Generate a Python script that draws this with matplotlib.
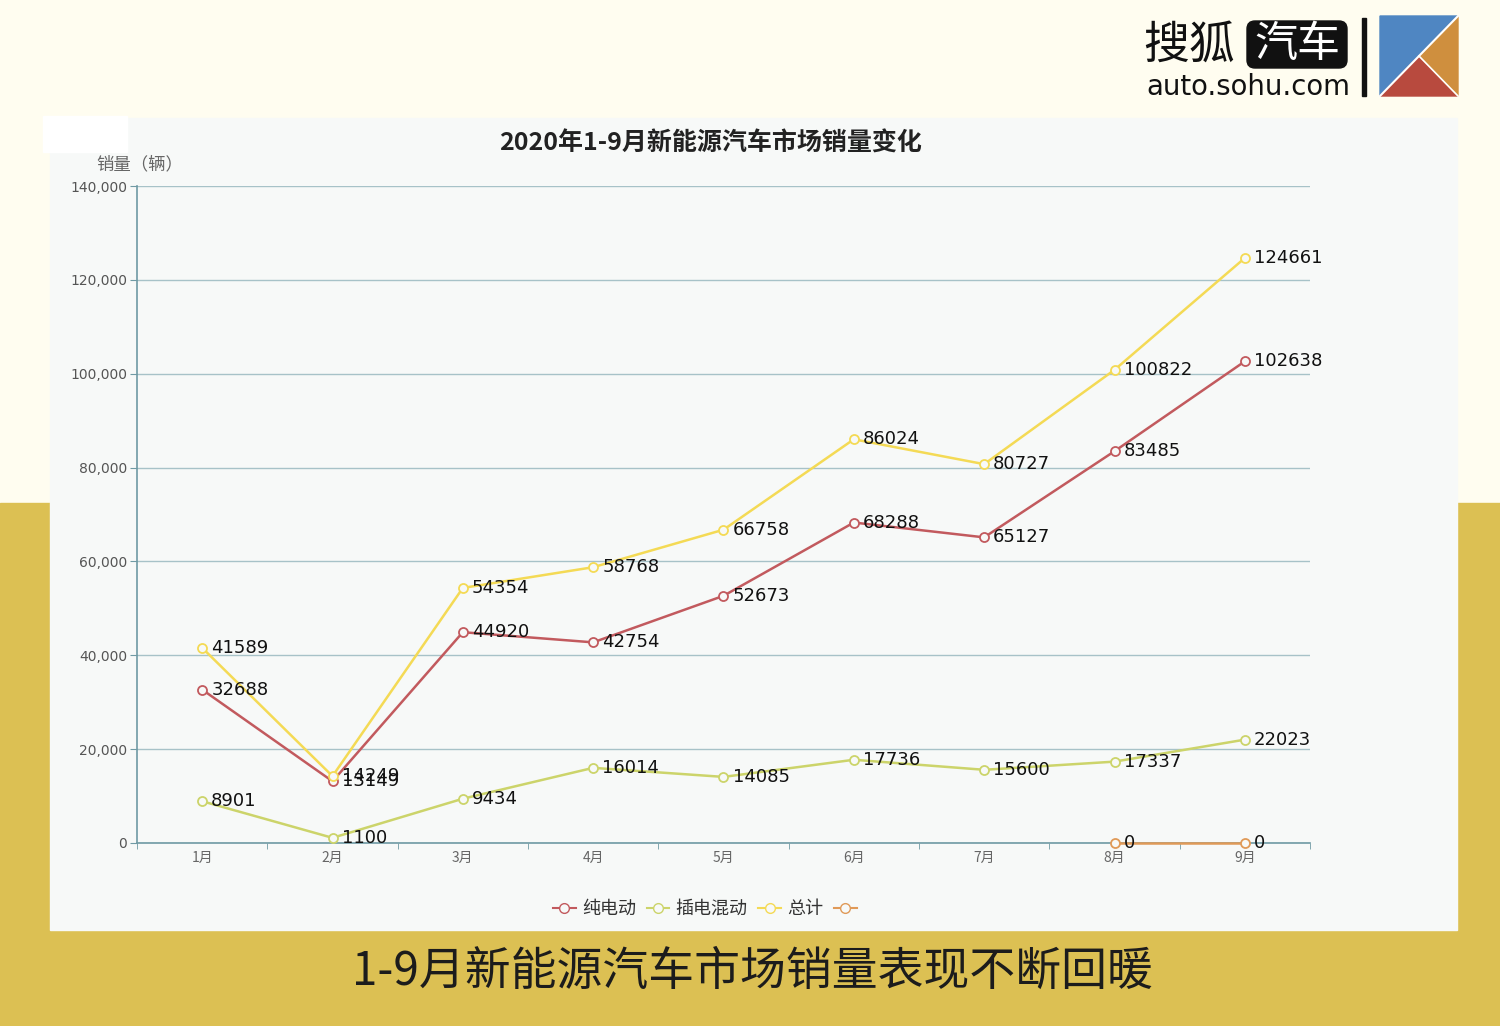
import numpy as np
import matplotlib
matplotlib.use('Agg')
import matplotlib.pyplot as plt
from matplotlib.patches import Rectangle, Polygon, FancyBboxPatch
from matplotlib.lines import Line2D
from matplotlib.ticker import FuncFormatter

plt.rcParams['font.family'] = ['Noto Sans CJK SC', 'DejaVu Sans']

# Data
months = ['1月', '2月', '3月', '4月', '5月', '6月', '7月', '8月', '9月']
bev = [32688, 13149, 44920, 42754, 52673, 68288, 65127, 83485, 102638]
phev = [8901, 1100, 9434, 16014, 14085, 17736, 15600, 17337, 22023]
total = [41589, 14249, 54354, 58768, 66758, 86024, 80727, 100822, 124661]
extra = [None, None, None, None, None, None, None, 0, 0]

series_names = ['纯电动', '插电混动', '总计', '']
series_colors = ['#c25a5e', '#ccd46a', '#f4da55', '#e09a58']

W, H = 1500, 1026
fig = plt.figure(figsize=(W / 100, H / 100), dpi=100)

# background layer in pixel coords
bg = fig.add_axes([0, 0, 1, 1], zorder=0)
bg.set_xlim(0, W)
bg.set_ylim(H, 0)
bg.axis('off')
bg.add_patch(Rectangle((0, 0), W, 503, color='#fffdf0'))
bg.add_patch(Rectangle((0, 503), W, H - 503, color='#dcc053'))
bg.add_patch(Rectangle((50, 118), 1407, 812, color='#f7f9f8'))
bg.add_patch(Rectangle((43, 116), 84, 36, color='#ffffff'))

# logo
bg.text(1143, 45, '搜狐', fontsize=33, color='#111111', va='center', ha='left')
bg.add_patch(FancyBboxPatch((1247, 21), 100, 47, boxstyle='round,pad=0,rounding_size=8',
                            color='#111111'))
bg.text(1297, 45, '汽车', fontsize=31, color='white', va='center', ha='center')
bg.text(1146, 87, 'auto.sohu.com', fontsize=19.8, color='#111111', va='center', ha='left',
        family='DejaVu Sans')
bg.add_patch(Rectangle((1362, 18), 4, 78, color='#111111'))
x0, y0, x1, y1 = 1380, 16, 1458, 96
cx, cy = (x0 + x1) / 2, (y0 + y1) / 2
bg.add_patch(Polygon([(x0, y0), (x1, y0), (x0, y1)], color='#4f86c2'))
bg.add_patch(Polygon([(x0, y1), (cx, cy), (x1, y1)], color='#b84a3e'))
bg.add_patch(Polygon([(cx, cy), (x1, y0), (x1, y1)], color='#cf8f3e'))
bg.plot([x1, x0], [y0, y1], color='white', lw=1.5)
bg.plot([cx, x1], [cy, y1], color='white', lw=1.2)

# title / captions
bg.text(711, 144, '2020年1-9月新能源汽车市场销量变化', fontsize=18, fontweight='bold',
        color='#222222', ha='center', va='center')
bg.text(96, 164, '销量（辆）', fontsize=12.5, color='#666666', ha='left', va='center')
bg.text(752, 972, '1-9月新能源汽车市场销量表现不断回暖', fontsize=33, color='#1c1c1c',
        ha='center', va='center', fontweight='light')

# main chart
ax = fig.add_axes([137 / W, 1 - 843 / H, (1310 - 137) / W, (843 - 186) / H], zorder=1)
ax.set_facecolor('none')
x = np.arange(len(months))
axis_color = '#6f9aa4'

for vals, color in zip([bev, phev, total, extra], series_colors):
    v = np.array([np.nan if a is None else a for a in vals], dtype=float)
    ax.plot(x, v, color=color, lw=1.8, marker='o', markersize=6.5,
            markerfacecolor='#f7f9f8', markeredgecolor=color, markeredgewidth=1.3,
            zorder=3, clip_on=False)
    for xi, vi in zip(x, v):
        if not np.isnan(vi):
            ax.annotate(f'{int(vi)}', (xi, vi), xytext=(6.5, 0), textcoords='offset points',
                        fontsize=13, color='#111111', va='center', ha='left',
                        family='DejaVu Sans', zorder=4)

ax.set_xlim(-0.5, 8.5)
ax.set_ylim(0, 140000)
ax.set_yticks(np.arange(0, 140001, 20000))
ax.yaxis.set_major_formatter(FuncFormatter(lambda v, p: f'{int(v):,}'))
ax.set_xticks(x)
ax.set_xticklabels(months)
ax.set_xticks(np.arange(-0.5, 9, 1), minor=True)
ax.tick_params(axis='x', which='major', length=0, pad=6, labelsize=10, labelcolor='#666666')
ax.tick_params(axis='x', which='minor', length=4, color=axis_color, direction='out')
ax.tick_params(axis='y', length=5, color=axis_color, labelsize=10, labelcolor='#555555', pad=2)
for lbl in ax.get_yticklabels():
    lbl.set_family('DejaVu Sans')
ax.grid(axis='y', color='#a7c2c8', lw=1)
ax.set_axisbelow(True)
for s in ['top', 'right']:
    ax.spines[s].set_visible(False)
for s in ['left', 'bottom']:
    ax.spines[s].set_color(axis_color)
    ax.spines[s].set_linewidth(1.2)

handles = [Line2D([0], [0], color=c, lw=1.5, marker='o', markersize=7,
                  markerfacecolor='#f7f9f8', markeredgecolor=c) for c in series_colors]
fig.legend(handles, series_names, loc='center', bbox_to_anchor=(708 / W, 1 - 909 / H),
           ncol=4, frameon=False, fontsize=13, handlelength=1.25, columnspacing=0.6,
           handletextpad=0.35, labelcolor='#333333')

fig.savefig('out.png', dpi=100)
